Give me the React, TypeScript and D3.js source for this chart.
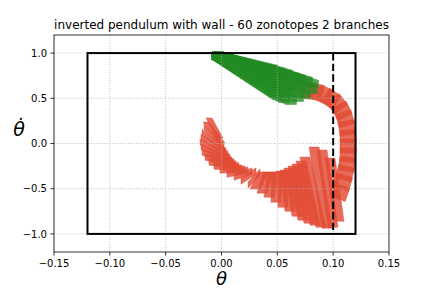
import React from "react";
import * as d3 from "d3";

// ---------- data (data units) ----------
const xTicks = [-0.15, -0.1, -0.05, 0, 0.05, 0.1, 0.15];
const yTicks = [-1.0, -0.5, 0.0, 0.5, 1.0];
const safeBox = { x0: -0.12, x1: 0.12, y0: -1.0, y1: 1.0 };
const wallTheta = 0.1;

// green branch: centers, slanted generator, plus shared box generators
const greenCx = [0.0208, 0.0244, 0.0276, 0.0307, 0.0334, 0.0365, 0.0392, 0.0387, 0.0356, 0.0325, 0.0293, 0.0262, 0.0235, 0.0316, 0.028];
const greenCy = [0.898, 0.8815, 0.8705, 0.854, 0.8425, 0.8315, 0.815, 0.7815, 0.754, 0.737, 0.7205, 0.7315, 0.7485, 0.7925, 0.8095];
const greenGx = [0.0244, 0.028, 0.0312, 0.0343, 0.037, 0.0401, 0.0428, 0.0423, 0.0392, 0.0361, 0.0329, 0.0298, 0.0271, 0.0352, 0.0316];
const greenGy = [-0.072, -0.0885, -0.0995, -0.116, -0.1275, -0.1385, -0.155, -0.1885, -0.216, -0.233, -0.2495, -0.2385, -0.2215, -0.1775, -0.1605];
const greenBoxGen = [[0.0049, 0], [0, 0.04]];

// red branch: centers and two generators each
const redCx = [
  0.0775, 0.0846, 0.0918, 0.0981, 0.1034, 0.1079, 0.1106, 0.1124, 0.1133, 0.1133, 0.1133, 0.1124, 0.1106, 0.1088, 0.1061,
  0.1012, 0.0949, 0.0887, 0.0819, 0.0775, 0.073, 0.0685, 0.064, 0.0591, 0.0542, 0.0492, 0.0443, 0.039, 0.034, 0.0291,
  0.0242, 0.0193, 0.0143, 0.0099, 0.0058, 0.0022, -0.0009, -0.0031, -0.0045, -0.0058, -0.0063, -0.0067, -0.0067, -0.0067, -0.0063,
];
const redCy = [
  0.582, 0.571, 0.538, 0.494, 0.438, 0.36, 0.272, 0.172, 0.072, -0.028, -0.128, -0.227, -0.327, -0.427, -0.538,
  -0.51, -0.499, -0.488, -0.538, -0.549, -0.5545, -0.549, -0.538, -0.521, -0.505, -0.482, -0.455, -0.4325, -0.41, -0.388,
  -0.36, -0.338, -0.316, -0.288, -0.261, -0.227, -0.1885, -0.15, -0.111, -0.0665, -0.022, 0.022, 0.072, 0.122, 0.172,
];
const redG1x = [
  0.00624, 0.00608, 0.00572, 0.00513, 0.00389, 0.00282, 0.00182, 0.00093, 0.00031, 0, -0.00031, -0.00093, -0.00152, -0.0018, -0.00207,
  -0.00403, -0.00493, -0.00582, -0.00716, -0.00627, -0.00537, -0.00448, -0.00358, -0.00224, -0.0009, 0.00045, 0.00179, 0.00269, 0.00403, 0.00537,
  0.00672, 0.00806, 0.0094, 0.01119, 0.01254, 0.01343, 0.01388, 0.01433, 0.01388, 0.01343, 0.01209, 0.01075, 0.00896, 0.00716, 0.00493,
];
const redG1y = [
  -0.0078, -0.0189, -0.0318, -0.0445, -0.0606, -0.0691, -0.0745, -0.0767, -0.0776, -0.0776, -0.0776, -0.0767, -0.0753, -0.0744, -0.0733,
  0.349, 0.427, 0.449, 0.3882, 0.3549, 0.3272, 0.2994, 0.2662, 0.2273, 0.1996, 0.1664, 0.1386, 0.1164, 0.0943, 0.0721,
  0.0555, 0.0333, 0.0222, 0.0055, -0.0111, -0.0222, -0.0388, -0.0555, -0.0721, -0.0832, -0.0943, -0.1054, -0.1109, -0.1164, -0.1109,
];
const redG2x = [
  -0.00072, -0.00174, -0.00294, -0.0041, -0.00559, -0.00638, -0.00688, -0.00708, -0.00716, -0.00716, -0.00716, -0.00708, -0.00695, -0.00686, -0.00676,
  0.0045, 0.0045, 0.0045, 0.0045, 0.0045, 0.0045, 0.0045, 0.0045, 0.0045, 0.0045, 0.0045, 0.0045, 0.0045, 0.0045, 0,
  0, 0, 0, 0, 0, 0, 0, 0, 0, 0, 0, 0, 0, 0.0027, 0.0027,
];
const redG2y = [
  -0.0883, -0.0861, -0.0809, -0.0727, -0.055, -0.0399, -0.0257, -0.0131, -0.0044, 0, 0.0044, 0.0131, 0.0215, 0.0255, 0.0293,
  0, 0, 0, 0, 0, 0, 0, 0, 0, 0, 0, 0, 0, 0, 0.035,
  0.035, 0.035, 0.035, 0.035, 0.035, 0.035, 0.035, 0.035, 0.03, 0.03, 0.03, 0.03, 0.03, 0, 0,
];

// ---------- layout ----------
const W = 432;
const H = 288;
const L = 54, R = 389, T = 35, B = 252;
const FONT = "'DejaVu Sans', sans-serif";
const RED = "#e24a33";
const GREEN = "#228b22";

const x = d3.scaleLinear().domain([-0.15, 0.15]).range([L, R]);
const y = d3.scaleLinear().domain([-1.2, 1.2]).range([B, T]);

function zonotope(c: number[], gens: number[][]): string {
  let pts: number[][] = [c];
  for (const g of gens) {
    const next: number[][] = [];
    for (const p of pts) {
      next.push([p[0] + g[0], p[1] + g[1]]);
      next.push([p[0] - g[0], p[1] - g[1]]);
    }
    pts = next;
  }
  const px = pts.map((p) => [x(p[0]), y(p[1])] as [number, number]);
  const hull = d3.polygonHull(px) || px;
  return "M" + hull.map((p) => p[0].toFixed(2) + "," + p[1].toFixed(2)).join("L") + "Z";
}

const fmt = (v: number, d: number) => (v < 0 ? "\u2212" : "") + Math.abs(v).toFixed(d);

export default function App() {
  const redPaths = redCx.map((cx, i) =>
    zonotope([cx, redCy[i]], [[redG1x[i], redG1y[i]], [redG2x[i], redG2y[i]]])
  );
  const greenPaths = greenCx.map((cx, i) =>
    zonotope([cx, greenCy[i]], [[greenGx[i], greenGy[i]], ...greenBoxGen])
  );
  return (
    <svg width={W} height={H} style={{ position: "absolute", left: 0, top: 0 }} fontFamily={FONT}>
      <rect x={0} y={0} width={W} height={H} fill="#fff" />
      <defs>
        <clipPath id="plot">
          <rect x={L} y={T} width={R - L} height={B - T} />
        </clipPath>
      </defs>
      <g clipPath="url(#plot)">
        {redPaths.map((d, i) => (
          <path key={"r" + i} d={d} fill={RED} fillOpacity={0.82} stroke={RED} strokeOpacity={0.82} strokeWidth={0.5} />
        ))}
        {greenPaths.map((d, i) => (
          <path key={"g" + i} d={d} fill={GREEN} fillOpacity={0.78} stroke={GREEN} strokeOpacity={0.78} strokeWidth={0.5} />
        ))}
        {xTicks.map((t) => (
          <line key={"gx" + t} x1={x(t)} x2={x(t)} y1={T} y2={B} stroke="#b0b0b0" strokeWidth={0.8} strokeDasharray="1,1.65" />
        ))}
        {yTicks.map((t) => (
          <line key={"gy" + t} x1={L} x2={R} y1={y(t)} y2={y(t)} stroke="#b0b0b0" strokeWidth={0.8} strokeDasharray="1,1.65" />
        ))}
        <rect
          x={x(safeBox.x0)}
          y={y(safeBox.y1)}
          width={x(safeBox.x1) - x(safeBox.x0)}
          height={y(safeBox.y0) - y(safeBox.y1)}
          fill="none"
          stroke="#000"
          strokeWidth={2}
        />
        <line x1={x(wallTheta)} x2={x(wallTheta)} y1={y(safeBox.y1)} y2={y(safeBox.y0)} stroke="#000" strokeWidth={2} strokeDasharray="7.4,3.2" />
      </g>
      <rect x={L} y={T} width={R - L} height={B - T} fill="none" stroke="#000" strokeWidth={0.8} />
      {xTicks.map((t) => (
        <g key={"xt" + t}>
          <line x1={x(t)} x2={x(t)} y1={B} y2={B + 3.5} stroke="#000" strokeWidth={0.8} />
          <text x={x(t)} y={B + 15} fontSize={10} textAnchor="middle" fill="#000">
            {fmt(t, 2)}
          </text>
        </g>
      ))}
      {yTicks.map((t) => (
        <g key={"yt" + t}>
          <line x1={L - 3.5} x2={L} y1={y(t)} y2={y(t)} stroke="#000" strokeWidth={0.8} />
          <text x={L - 7} y={y(t) + 3.6} fontSize={10} textAnchor="end" fill="#000">
            {fmt(t, 1)}
          </text>
        </g>
      ))}
      <text x={(L + R) / 2} y={29} fontSize={12} textAnchor="middle" fill="#000">
        inverted pendulum with wall - 60 zonotopes 2 branches
      </text>
      <text x={(L + R) / 2} y={285} fontSize={18} fontStyle="italic" textAnchor="middle" fill="#000">
        θ
      </text>
      <text x={19} y={136} fontSize={19} fontStyle="italic" textAnchor="middle" fill="#000">
        θ̇
      </text>
    </svg>
  );
}
